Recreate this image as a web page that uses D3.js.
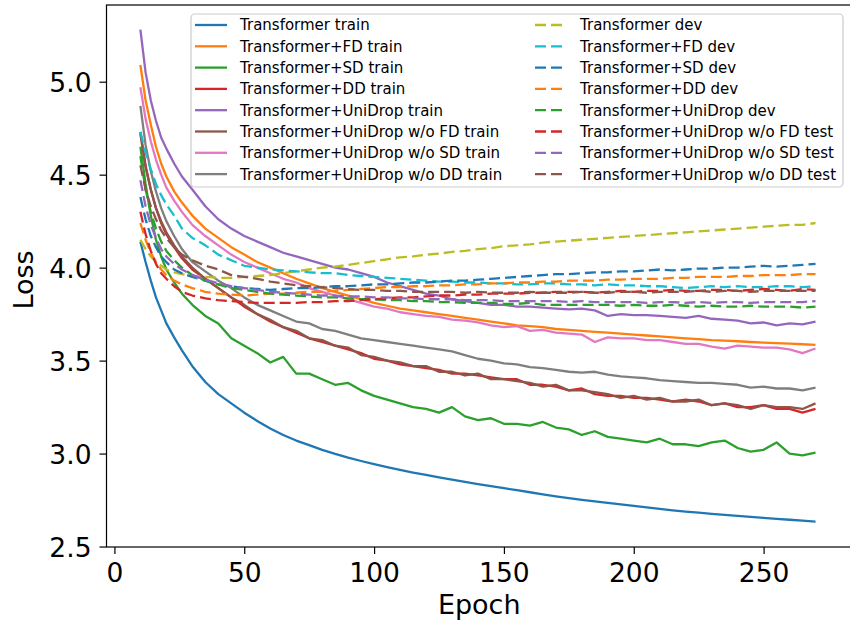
<!DOCTYPE html>
<html>
<head>
<meta charset="utf-8">
<script src="https://cdn.jsdelivr.net/npm/d3@7"></script>
<style>
	body { margin: 0; background: #fff; }
	svg { display: block; font-family: "DejaVu Sans", sans-serif; }
</style>
</head>
<body>
<div class="container"></div>
<script>
// epochs sampled from the curves (denser at the start where they fall fast)
const epochs = [10, 12, 14, 16, 18, 20, 23, 26, 30, 35, 40, 45,
	50, 55, 60, 65, 70, 75, 80, 85, 90, 95,
	100, 105, 110, 115, 120, 125, 130, 135, 140, 145,
	150, 155, 160, 165, 170, 175, 180, 185, 190, 195,
	200, 205, 210, 215, 220, 225, 230, 235, 240, 245,
	250, 255, 260, 265, 270];

const trainBase = [4.14, 4.03, 3.93, 3.84, 3.77, 3.70, 3.625, 3.555, 3.47, 3.385, 3.32, 3.27,
	3.22, 3.175, 3.135, 3.10, 3.07, 3.045, 3.02, 2.998, 2.978, 2.96,
	2.943, 2.927, 2.912, 2.898, 2.885, 2.872, 2.86, 2.848, 2.836, 2.825,
	2.814, 2.803, 2.792, 2.781, 2.770, 2.760, 2.751, 2.743, 2.735, 2.727,
	2.719, 2.711, 2.703, 2.695, 2.688, 2.682, 2.676, 2.670, 2.665, 2.659,
	2.654, 2.649, 2.644, 2.639, 2.634];
const trainFD = [5.09, 4.90, 4.77, 4.65, 4.56, 4.49, 4.41, 4.35, 4.28, 4.21, 4.16, 4.11,
	4.07, 4.03, 4.00, 3.97, 3.94, 3.915, 3.89, 3.87, 3.85, 3.83,
	3.81, 3.795, 3.78, 3.77, 3.76, 3.75, 3.74, 3.73, 3.72, 3.71,
	3.70, 3.69, 3.685, 3.68, 3.67, 3.665, 3.66, 3.655, 3.65, 3.645,
	3.64, 3.635, 3.63, 3.625, 3.62, 3.615, 3.61, 3.607, 3.604, 3.60,
	3.597, 3.594, 3.591, 3.588, 3.585];
const trainSD = [4.65, 4.45, 4.28, 4.15, 4.06, 3.99, 3.92, 3.86, 3.80, 3.74, 3.70, 3.62,
	3.58, 3.54, 3.49, 3.52, 3.43, 3.43, 3.40, 3.37, 3.38, 3.34,
	3.31, 3.29, 3.27, 3.25, 3.24, 3.22, 3.25, 3.20, 3.18, 3.19,
	3.16, 3.16, 3.15, 3.17, 3.14, 3.13, 3.10, 3.12, 3.09, 3.08,
	3.07, 3.06, 3.08, 3.05, 3.05, 3.04, 3.06, 3.07, 3.03, 3.01,
	3.02, 3.06, 3.00, 2.99, 3.005];
const trainDD = [4.73, 4.55, 4.42, 4.32, 4.24, 4.18, 4.11, 4.05, 3.99, 3.94, 3.89, 3.84,
	3.79, 3.75, 3.71, 3.68, 3.65, 3.62, 3.60, 3.58, 3.56, 3.54,
	3.51, 3.50, 3.48, 3.47, 3.46, 3.45, 3.43, 3.43, 3.42, 3.41,
	3.40, 3.40, 3.37, 3.37, 3.36, 3.34, 3.35, 3.32, 3.31, 3.31,
	3.30, 3.30, 3.29, 3.28, 3.29, 3.28, 3.26, 3.27, 3.25, 3.25,
	3.26, 3.24, 3.24, 3.22, 3.24];
const trainUni = [5.28, 5.05, 4.90, 4.79, 4.70, 4.64, 4.56, 4.49, 4.42, 4.33, 4.26, 4.21,
	4.17, 4.14, 4.11, 4.08, 4.06, 4.04, 4.02, 4.00, 3.99, 3.97,
	3.95, 3.92, 3.90, 3.88, 3.86, 3.85, 3.83, 3.82, 3.81, 3.80,
	3.80, 3.79, 3.79, 3.785, 3.78, 3.775, 3.78, 3.77, 3.74, 3.75,
	3.745, 3.745, 3.74, 3.735, 3.73, 3.74, 3.725, 3.72, 3.715, 3.70,
	3.705, 3.69, 3.70, 3.695, 3.71];
const trainNoFD = [4.72, 4.54, 4.42, 4.32, 4.25, 4.19, 4.12, 4.06, 4.00, 3.94, 3.89, 3.84,
	3.80, 3.75, 3.72, 3.68, 3.66, 3.62, 3.61, 3.58, 3.57, 3.53,
	3.52, 3.50, 3.49, 3.47, 3.47, 3.44, 3.44, 3.42, 3.43, 3.40,
	3.40, 3.39, 3.38, 3.36, 3.37, 3.34, 3.34, 3.33, 3.32, 3.30,
	3.31, 3.29, 3.30, 3.28, 3.28, 3.29, 3.26, 3.27, 3.26, 3.24,
	3.26, 3.25, 3.25, 3.24, 3.27];
const trainNoSD = [4.97, 4.80, 4.68, 4.58, 4.50, 4.43, 4.36, 4.30, 4.23, 4.17, 4.12, 4.07,
	4.03, 4.00, 3.97, 3.94, 3.92, 3.89, 3.87, 3.85, 3.83, 3.81,
	3.79, 3.78, 3.76, 3.75, 3.74, 3.735, 3.72, 3.715, 3.705, 3.69,
	3.68, 3.685, 3.66, 3.665, 3.65, 3.645, 3.64, 3.60, 3.625, 3.62,
	3.62, 3.61, 3.61, 3.60, 3.59, 3.59, 3.575, 3.565, 3.58, 3.575,
	3.57, 3.57, 3.56, 3.54, 3.565];
const trainNoDD = [4.87, 4.66, 4.52, 4.41, 4.32, 4.25, 4.17, 4.10, 4.03, 3.98, 3.93, 3.89,
	3.84, 3.80, 3.77, 3.74, 3.71, 3.70, 3.67, 3.66, 3.64, 3.62,
	3.61, 3.60, 3.59, 3.58, 3.57, 3.56, 3.55, 3.53, 3.51, 3.50,
	3.485, 3.48, 3.465, 3.46, 3.45, 3.44, 3.435, 3.44, 3.425, 3.415,
	3.41, 3.405, 3.395, 3.39, 3.385, 3.38, 3.38, 3.375, 3.37, 3.355,
	3.36, 3.35, 3.35, 3.34, 3.355];

const devBase = [4.15, 4.10, 4.06, 4.03, 4.01, 3.99, 3.975, 3.965, 3.955, 3.95, 3.945, 3.945,
	3.95, 3.955, 3.96, 3.97, 3.98, 3.99, 4.00, 4.005, 4.015, 4.025,
	4.035, 4.045, 4.055, 4.06, 4.07, 4.075, 4.085, 4.09, 4.10, 4.105,
	4.115, 4.12, 4.125, 4.135, 4.14, 4.145, 4.15, 4.155, 4.16, 4.165,
	4.17, 4.175, 4.18, 4.185, 4.19, 4.195, 4.20, 4.205, 4.21, 4.215,
	4.22, 4.225, 4.23, 4.23, 4.24];
const devFD = [4.73, 4.62, 4.53, 4.45, 4.39, 4.34, 4.28, 4.21, 4.16, 4.12, 4.07, 4.04,
	4.01, 4.00, 3.99, 3.985, 3.98, 3.975, 3.97, 3.97, 3.96, 3.955,
	3.95, 3.945, 3.94, 3.935, 3.93, 3.925, 3.925, 3.92, 3.92, 3.915,
	3.915, 3.91, 3.91, 3.915, 3.915, 3.91, 3.91, 3.905, 3.91, 3.905,
	3.905, 3.90, 3.90, 3.895, 3.89, 3.895, 3.90, 3.895, 3.90, 3.895,
	3.895, 3.90, 3.90, 3.895, 3.90];
const devSD = [4.38, 4.26, 4.17, 4.11, 4.06, 4.03, 3.99, 3.97, 3.95, 3.93, 3.91, 3.90,
	3.89, 3.885, 3.88, 3.885, 3.89, 3.89, 3.895, 3.90, 3.90, 3.905,
	3.91, 3.91, 3.915, 3.92, 3.92, 3.925, 3.93, 3.93, 3.935, 3.94,
	3.945, 3.95, 3.955, 3.96, 3.965, 3.965, 3.97, 3.975, 3.975, 3.98,
	3.98, 3.985, 3.99, 3.985, 3.99, 3.995, 3.995, 4.00, 4.00, 4.005,
	4.01, 4.005, 4.01, 4.015, 4.02];
const devDD = [4.24, 4.15, 4.08, 4.03, 3.99, 3.96, 3.93, 3.91, 3.89, 3.87, 3.86, 3.855,
	3.85, 3.855, 3.86, 3.86, 3.865, 3.87, 3.87, 3.875, 3.88, 3.885,
	3.89, 3.895, 3.895, 3.90, 3.90, 3.905, 3.905, 3.91, 3.91, 3.915,
	3.915, 3.92, 3.92, 3.925, 3.925, 3.93, 3.93, 3.93, 3.935, 3.935,
	3.94, 3.94, 3.94, 3.945, 3.945, 3.95, 3.95, 3.95, 3.955, 3.955,
	3.96, 3.96, 3.96, 3.965, 3.965];
const devUni = [4.60, 4.42, 4.30, 4.21, 4.14, 4.09, 4.04, 4.00, 3.96, 3.93, 3.91, 3.89,
	3.88, 3.87, 3.86, 3.855, 3.85, 3.845, 3.84, 3.84, 3.835, 3.83,
	3.83, 3.825, 3.825, 3.82, 3.82, 3.815, 3.815, 3.81, 3.81, 3.81,
	3.805, 3.805, 3.81, 3.80, 3.80, 3.80, 3.80, 3.80, 3.80, 3.795,
	3.80, 3.795, 3.795, 3.80, 3.795, 3.79, 3.795, 3.79, 3.79, 3.795,
	3.79, 3.79, 3.79, 3.785, 3.79];
const testNoFD = [4.30, 4.18, 4.09, 4.02, 3.97, 3.94, 3.90, 3.87, 3.85, 3.835, 3.825, 3.82,
	3.815, 3.81, 3.81, 3.81, 3.81, 3.815, 3.815, 3.82, 3.82, 3.825,
	3.83, 3.835, 3.84, 3.84, 3.845, 3.85, 3.85, 3.855, 3.855, 3.86,
	3.86, 3.86, 3.865, 3.865, 3.87, 3.87, 3.87, 3.865, 3.87, 3.875,
	3.87, 3.875, 3.875, 3.88, 3.875, 3.875, 3.88, 3.88, 3.875, 3.88,
	3.885, 3.88, 3.875, 3.885, 3.88];
const testNoSD = [4.47, 4.33, 4.23, 4.16, 4.10, 4.06, 4.02, 3.99, 3.96, 3.935, 3.915, 3.90,
	3.89, 3.88, 3.87, 3.865, 3.86, 3.855, 3.85, 3.85, 3.845, 3.845,
	3.84, 3.84, 3.835, 3.835, 3.83, 3.83, 3.83, 3.825, 3.825, 3.825,
	3.82, 3.82, 3.82, 3.82, 3.82, 3.815, 3.82, 3.815, 3.815, 3.815,
	3.815, 3.81, 3.815, 3.815, 3.81, 3.815, 3.81, 3.815, 3.815, 3.81,
	3.815, 3.815, 3.815, 3.815, 3.82];
const testNoDD = [4.55, 4.42, 4.33, 4.26, 4.20, 4.16, 4.11, 4.07, 4.04, 4.01, 3.99, 3.96,
	3.95, 3.94, 3.925, 3.915, 3.905, 3.90, 3.895, 3.89, 3.885, 3.88,
	3.88, 3.875, 3.875, 3.87, 3.87, 3.87, 3.87, 3.865, 3.87, 3.865,
	3.865, 3.865, 3.87, 3.865, 3.865, 3.865, 3.87, 3.865, 3.865, 3.87,
	3.87, 3.865, 3.87, 3.87, 3.87, 3.875, 3.87, 3.875, 3.875, 3.87,
	3.875, 3.875, 3.875, 3.875, 3.875];

const labels = ['Transformer train', 'Transformer+FD train', 'Transformer+SD train', 'Transformer+DD train',
	'Transformer+UniDrop train', 'Transformer+UniDrop w/o FD train', 'Transformer+UniDrop w/o SD train',
	'Transformer+UniDrop w/o DD train',
	'Transformer dev', 'Transformer+FD dev', 'Transformer+SD dev', 'Transformer+DD dev',
	'Transformer+UniDrop dev', 'Transformer+UniDrop w/o FD test', 'Transformer+UniDrop w/o SD test',
	'Transformer+UniDrop w/o DD test'];
const values = [trainBase, trainFD, trainSD, trainDD, trainUni, trainNoFD, trainNoSD, trainNoDD,
	devBase, devFD, devSD, devDD, devUni, testNoFD, testNoSD, testNoDD];

const xTicks = [0, 50, 100, 150, 200, 250];
const yTicks = [2.5, 3.0, 3.5, 4.0, 4.5, 5.0];

// matplotlib tab10 cycle, dev lines start over after C7
var colors = ['#1f77b4', '#ff7f0e', '#2ca02c', '#d62728', '#9467bd', '#8c564b', '#e377c2', '#7f7f7f',
	'#bcbd22', '#17becf', '#1f77b4', '#ff7f0e', '#2ca02c', '#d62728', '#9467bd', '#8c564b'];
var dash = '11,5';
var lw = 2.3;

var W = 850, H = 628;
// plot box (right spine falls just off the canvas, as in the reference)
var padL = 106.5, padT = 5, padR = 852, padB = 547;

var svg = d3.select('.container')
.append('svg')
.attr('width', W)
.attr('height', H);

var x = d3.scaleLinear().domain([-3.05, 284.05]).range([padL, padR]);
var y = d3.scaleLinear().domain([2.4975, 5.4125]).range([padB, padT]);

svg.append('clipPath').attr('id', 'plot')
.append('rect')
.attr('x', padL).attr('y', padT)
.attr('width', padR - padL).attr('height', padB - padT);

var line = d3.line()
.x((d, i) => x(epochs[i]))
.y(d => y(d));

var lines = svg.append('g').attr('clip-path', 'url(#plot)');
values.forEach(function (vals, i) {
	lines.append('path')
	.attr('d', line(vals))
	.attr('fill', 'none')
	.attr('stroke', colors[i])
	.attr('stroke-width', lw)
	.attr('stroke-linejoin', 'round')
	.attr('stroke-dasharray', i >= 8 ? dash : null);
});

// axes
var xAxis = svg.append('g')
.attr('transform', 'translate(0,' + padB + ')')
.call(d3.axisBottom(x).tickValues(xTicks).tickSize(7).tickPadding(7).tickFormat(d3.format('d')));
var yAxis = svg.append('g')
.attr('transform', 'translate(' + padL + ',0)')
.call(d3.axisLeft(y).tickValues(yTicks).tickSize(7).tickPadding(8).tickFormat(d3.format('.1f')));

[xAxis, yAxis].forEach(function (ax) {
	ax.select('.domain').remove();
	ax.selectAll('line').attr('stroke', '#000').attr('stroke-width', 1.2);
	ax.selectAll('text')
	.attr('fill', '#000')
	.style('font-family', '"DejaVu Sans", sans-serif')
	.style('font-size', '26.5px');
});
xAxis.selectAll('text').attr('dy', null).attr('y', 34.5);
yAxis.selectAll('text').attr('dy', '0.36em');

// spines
svg.append('rect')
.attr('x', padL).attr('y', padT)
.attr('width', padR - padL).attr('height', padB - padT)
.attr('fill', 'none')
.attr('stroke', '#000')
.attr('stroke-width', 1.2);

svg.append('text')
.attr('x', (padL + padR) / 2)
.attr('y', 614)
.attr('text-anchor', 'middle')
.style('font-size', '27px')
.text('Epoch');

svg.append('text')
.attr('transform', 'translate(33,280) rotate(-90)')
.attr('text-anchor', 'middle')
.style('font-size', '27px')
.text('Loss');

// legend, two columns of eight
var legend = svg.append('g');
legend.append('rect')
.attr('x', 191).attr('y', 14)
.attr('width', 652).attr('height', 173)
.attr('rx', 4)
.attr('fill', '#fff').attr('fill-opacity', 0.8)
.attr('stroke', '#cccccc').attr('stroke-width', 1.2);

var colX = [195, 535];
labels.forEach(function (label, i) {
	var col = Math.floor(i / 8);
	var rowY = 25 + (i % 8) * 21.3;
	legend.append('line')
	.attr('x1', colX[col]).attr('x2', colX[col] + 32)
	.attr('y1', rowY).attr('y2', rowY)
	.attr('stroke', colors[i])
	.attr('stroke-width', lw)
	.attr('stroke-dasharray', i >= 8 ? dash : null);
	legend.append('text')
	.attr('x', colX[col] + 45)
	.attr('y', rowY)
	.attr('dy', '0.36em')
	.attr('fill', '#000')
	.style('font-size', '15px')
	.text(label);
});
</script>
</body>
</html>
